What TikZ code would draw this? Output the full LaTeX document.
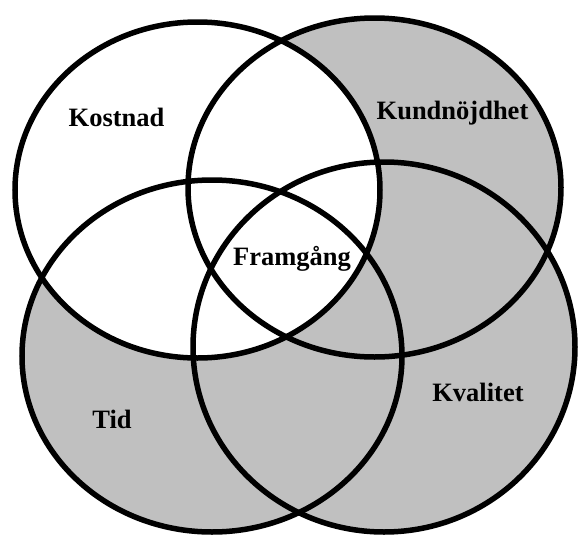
\documentclass[tikz,border=0pt]{standalone}
\usepackage{fontspec}
\setmainfont{Liberation Serif}
\definecolor{vennfill}{RGB}{192,192,192}
\begin{document}
\begin{tikzpicture}[x=1pt,y=-1pt,
  outline/.style={draw=black,line width=5.5pt},
  lbl/.style={font=\fontsize{26.5}{26.5}\selectfont\bfseries,anchor=base,inner sep=0pt}]
\useasboundingbox (0,0) rectangle (579,536);
% fills
\fill[vennfill] (374.5,187.5) ellipse [x radius=186.5pt, y radius=169.5pt];
\fill[vennfill] (212,356) ellipse [x radius=190pt, y radius=176pt];
\fill[vennfill] (384,347) ellipse [x radius=191pt, y radius=185pt];
\fill[white] (197.5,190) ellipse [x radius=182.5pt, y radius=168pt];
% outlines
\draw[outline] (197.5,190) ellipse [x radius=182.5pt, y radius=168pt];
\draw[outline] (374.5,187.5) ellipse [x radius=186.5pt, y radius=169.5pt];
\draw[outline] (212,356) ellipse [x radius=190pt, y radius=176pt];
\draw[outline] (384,347) ellipse [x radius=191pt, y radius=185pt];
% labels
\node[lbl] (kostnad) at (116.5,126) {Kostnad};
\node[lbl] (kund) at (452.5,119.5) {Kundnöjdhet};
\node[lbl] (framgang) at (292,265) {Framgång};
\node[lbl] (tid) at (112,428) {Tid};
\node[lbl] (kvalitet) at (478,401) {Kvalitet};
\end{tikzpicture}
\end{document}
